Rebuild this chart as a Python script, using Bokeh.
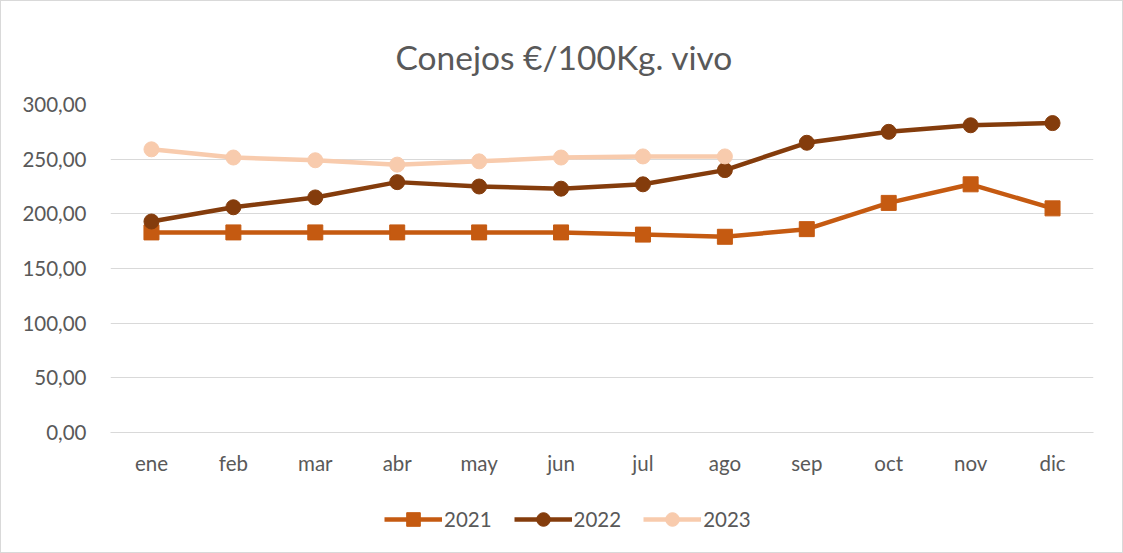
from bokeh.plotting import figure
from bokeh.layouts import column
from bokeh.embed import file_html
from bokeh.resources import INLINE
from bokeh.models import Legend, LegendItem, CustomJSTickFormatter, SingleIntervalTicker, FactorRange, Range1d

months = ["ene", "feb", "mar", "abr", "may", "jun", "jul", "ago", "sep", "oct", "nov", "dic"]
y2021 = [183, 183, 183, 183, 183, 183, 181, 179, 186, 210, 227, 205]
y2022 = [193, 206, 215, 229, 225, 223, 227, 240, 265, 275, 281, 283]
months_2023 = ["ene", "feb", "mar", "abr", "may", "jun", "jul", "ago"]
y2023 = [259, 251.5, 249, 245, 248, 251.5, 252.5, 252.5]
series_labels = ["2021", "2022", "2023"]

c2021 = "#C55A11"
c2022 = "#843C0C"
c2023 = "#F8CBAD"
txt = "#595959"
grid = "#D9D9D9"
font = "Lato"

p = figure(width=1121, height=490, x_range=FactorRange(*months), y_range=Range1d(0, 300),
           output_backend="svg", toolbar_location=None,
           title="Conejos €/100Kg. vivo",
           min_border_left=109, min_border_right=29, min_border_top=103, min_border_bottom=59)
p.title.align = "left"
p.title.offset = 285
p.title.standoff = 56
p.title.text_font_size = "33.5px"
p.title.text_font = font
p.title.text_font_style = "normal"
p.title.text_color = txt
p.outline_line_color = None

p.xgrid.grid_line_color = None
p.ygrid.grid_line_color = grid
p.ygrid.grid_line_width = 1
p.yaxis.ticker = SingleIntervalTicker(interval=50)
p.yaxis.formatter = CustomJSTickFormatter(code="return tick.toFixed(2).replace('.', ',');")
for ax in (p.xaxis[0], p.yaxis[0]):
    ax.major_tick_line_color = None
    ax.minor_tick_line_color = None
    ax.major_label_text_font = font
    ax.major_label_text_font_size = "20.5px"
    ax.major_label_text_color = txt
p.yaxis.axis_line_color = None
p.xaxis.axis_line_color = grid
p.xaxis.major_label_standoff = 12
p.yaxis.major_label_standoff = 18

lw = 4.5
ms = 15
p.line(months, y2021, line_color=c2021, line_width=lw)
p.scatter(months, y2021, marker="square", size=ms, fill_color=c2021, line_color=c2021)
p.line(months, y2022, line_color=c2022, line_width=lw)
p.scatter(months, y2022, marker="circle", size=ms, fill_color=c2022, line_color=c2022)
p.line(months_2023, y2023, line_color=c2023, line_width=lw)
p.scatter(months_2023, y2023, marker="circle", size=ms, fill_color=c2023, line_color=c2023)

# legend strip below the chart (proxy renderers lie outside the visible range)
q = figure(width=1121, height=61, x_range=Range1d(0, 1), y_range=Range1d(0, 1),
           output_backend="svg", toolbar_location=None,
           x_axis_location=None, y_axis_location=None,
           min_border_left=0, min_border_right=0, min_border_top=0, min_border_bottom=0)
q.grid.visible = False
q.outline_line_color = None
items = []
for lab, col, mk in zip(series_labels, [c2021, c2022, c2023], ["square", "circle", "circle"]):
    lr = q.line([5, 6], [5, 6], line_color=col, line_width=lw)
    sr = q.scatter([5], [5], marker=mk, size=ms, fill_color=col, line_color=col)
    items.append(LegendItem(label=lab, renderers=[lr, sr]))
legend = Legend(items=items, orientation="horizontal", location=(274, 16),
                label_text_font=font, label_text_font_size="20.5px", label_text_color=txt,
                border_line_color=None, background_fill_alpha=0,
                glyph_width=58, glyph_height=34, spacing=22, label_standoff=2,
                padding=10, margin=0)
q.add_layout(legend, "center")

layout = column(p, q, spacing=0)
layout.styles = {"border": "1px solid #D9D9D9"}

open("out.html", "w").write(file_html(layout, INLINE))
